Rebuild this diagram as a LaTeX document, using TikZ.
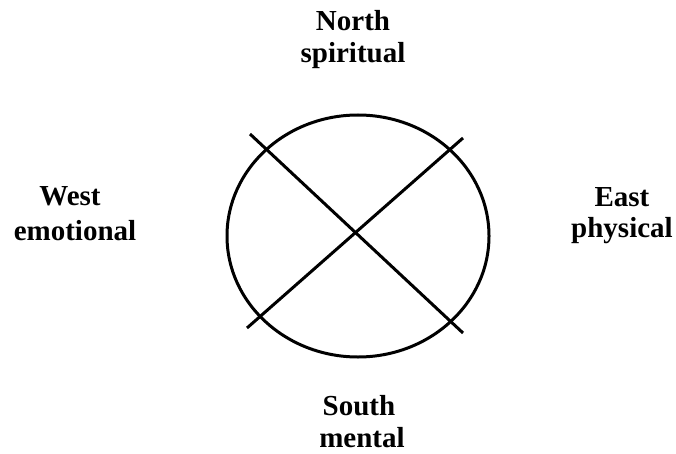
\documentclass[tikz,border=0pt]{standalone}
\usepackage{fontspec}
\setmainfont{Liberation Serif}
\tikzset{
  lbl/.style={anchor=base, inner sep=0pt, font=\fontsize{29}{32}\selectfont\bfseries},
  stroke/.style={line width=3pt, black},
}
\begin{document}
\begin{tikzpicture}[x=1pt,y=1pt]
\useasboundingbox (0,0) rectangle (676,453);
\draw[stroke] (358,217) ellipse [x radius=131, y radius=121];
\coordinate (a1) at (250,319);
\coordinate (a2) at (463,120);
\coordinate (b1) at (463,315);
\coordinate (b2) at (247,125);
\draw[stroke] (a1) -- (a2);
\draw[stroke] (b1) -- (b2);
\node[lbl] (north) at (353,422) {North};
\node[lbl] (spiritual) at (353,390) {spiritual};
\node[lbl] (south) at (359,38) {South};
\node[lbl] (mental) at (362,6) {mental};
\node[lbl] (west) at (70,248) {West};
\node[lbl] (emotional) at (75,213) {emotional};
\node[lbl] (east) at (622,247) {East};
\node[lbl] (physical) at (622,216) {physical};
\end{tikzpicture}
\end{document}
